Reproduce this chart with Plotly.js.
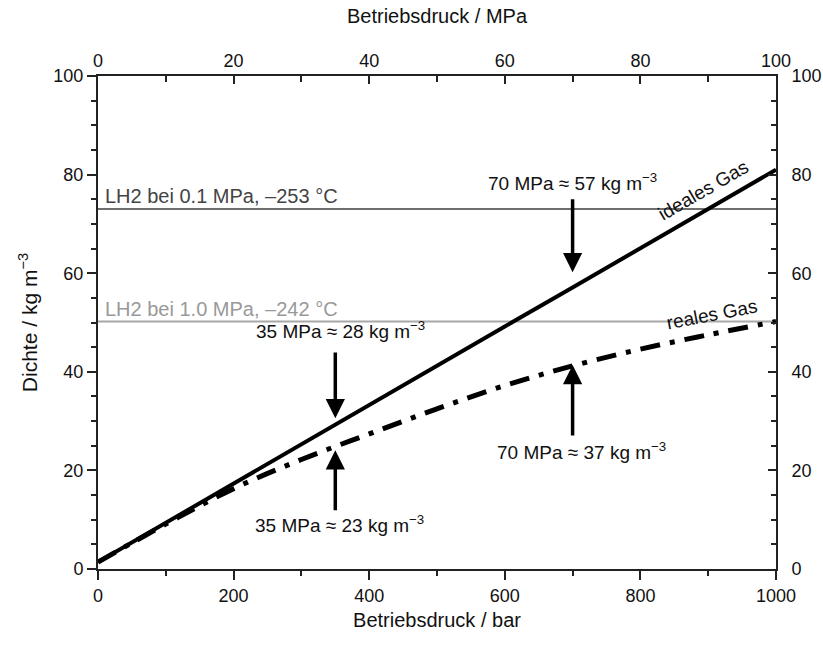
<!DOCTYPE html>
<html>
<head>
<meta charset="utf-8">
<script src="https://cdn.plot.ly/plotly-3.0.1.min.js"></script>
<style>html,body{margin:0;padding:0;background:#fff;}#chart{width:823px;height:657px;}</style>
</head>
<body>
<div id="chart"></div>
<script>
// Data
const pressureBar = [0, 100, 200, 300, 400, 500, 600, 700, 800, 900, 1000];
const densityIdeal = [1.4, 9.4, 17.3, 25.3, 33.2, 41.2, 49.2, 57.1, 65.1, 73.0, 81.0];
const densityReal = [1.4, 9.1, 16.3, 22.2, 27.4, 32.5, 37.2, 41.2, 44.6, 47.5, 50.2];
const lh2Pressure = [0, 1000];          // bar, full width
const lh2PressureMPa = [0, 100];        // MPa, top axis
const lh2Low = [73.0, 73.0];            // LH2 bei 0.1 MPa, -253 °C
const lh2High = [50.2, 50.2];           // LH2 bei 1.0 MPa, -242 °C
const xTicksBar = [0, 200, 400, 600, 800, 1000];
const xTicksMPa = [0, 20, 40, 60, 80, 100];
const yTicks = [0, 20, 40, 60, 80, 100];

const FONT = 'Liberation Sans, Arial, Helvetica, sans-serif';
const AX = '#222';

const traces = [
  {x: lh2Pressure, y: lh2Low, mode: 'lines', line: {color: '#6e6e6e', width: 2}, hoverinfo: 'skip', showlegend: false},
  {x: lh2Pressure, y: lh2High, mode: 'lines', line: {color: '#a8a8a8', width: 2}, hoverinfo: 'skip', showlegend: false},
  {x: pressureBar, y: densityReal, mode: 'lines', line: {color: '#000', width: 5, dash: '20px,10px,5px,10px', shape: 'spline'}, showlegend: false},
  {x: pressureBar, y: densityIdeal, mode: 'lines', line: {color: '#000', width: 4}, showlegend: false},
  // invisible trace anchoring the top (MPa) and right axes
  {x: lh2PressureMPa, y: lh2Low, xaxis: 'x2', yaxis: 'y2', mode: 'lines', line: {color: 'rgba(0,0,0,0)', width: 0}, hoverinfo: 'skip', showlegend: false}
];

const baseAxis = {
  showline: true, linecolor: AX, linewidth: 2, mirror: false,
  showgrid: false, zeroline: false, ticks: 'outside', tickcolor: AX, tickwidth: 2, ticklen: 9,
  tickfont: {family: FONT, size: 18, color: '#111'}
};

const annFont = {family: FONT, size: 19, color: '#111'};

const layout = {
  width: 823, height: 657,
  margin: {l: 98, r: 47, t: 76, b: 88},
  paper_bgcolor: '#fff', plot_bgcolor: '#fff',
  font: {family: FONT, color: '#111'},
  showlegend: false,
  xaxis: Object.assign({}, baseAxis, {
    range: [0, 1000], tickvals: xTicksBar, ticktext: xTicksBar.map(String),
    minor: {dtick: 100, ticks: 'outside', ticklen: 5, tickcolor: AX, tickwidth: 2},
    title: {text: 'Betriebsdruck / bar', font: {family: FONT, size: 20, color: '#111'}, standoff: 8}
  }),
  xaxis2: Object.assign({}, baseAxis, {
    range: [0, 100], overlaying: 'x', side: 'top', anchor: 'y',
    tickvals: xTicksMPa, ticktext: xTicksMPa.map(String), ticks: 'inside', ticklen: 8,
    minor: {dtick: 10, ticks: 'inside', ticklen: 6, tickcolor: AX, tickwidth: 2},
    title: {text: 'Betriebsdruck / MPa', font: {family: FONT, size: 20, color: '#111'}, standoff: 22}
  }),
  yaxis: Object.assign({}, baseAxis, {
    range: [0, 100], tickvals: yTicks, ticktext: yTicks.map(String),
    minor: {dtick: 5, ticks: 'outside', ticklen: 5, tickcolor: AX, tickwidth: 2},
    title: {text: 'Dichte / kg m<sup>−3</sup>', font: {family: FONT, size: 21, color: '#111'}, standoff: 10}
  }),
  yaxis2: Object.assign({}, baseAxis, {
    range: [0, 100], overlaying: 'y', side: 'right', anchor: 'x',
    tickvals: yTicks, ticktext: yTicks.map(String), ticks: 'inside', ticklen: 8,
    ticklabelstandoff: 10,
    minor: {dtick: 5, ticks: 'inside', ticklen: 5, tickcolor: AX, tickwidth: 2}
  }),
  annotations: [
    {x: 8, y: 73, xref: 'x', yref: 'y', text: 'LH2 bei 0.1 MPa, –253 °C', showarrow: false, xanchor: 'left', yanchor: 'bottom', yshift: 0, font: {family: FONT, size: 20, color: '#444'}},
    {x: 8, y: 50.2, xref: 'x', yref: 'y', text: 'LH2 bei 1.0 MPa, –242 °C', showarrow: false, xanchor: 'left', yanchor: 'bottom', yshift: 0, font: {family: FONT, size: 20, color: '#999'}},
    // labels
    {x: 700, y: 78.5, xref: 'x', yref: 'y', text: '70 MPa ≈ 57 kg m<sup>−3</sup>', showarrow: false, font: annFont},
    {x: 357, y: 48.5, xref: 'x', yref: 'y', text: '35 MPa ≈ 28 kg m<sup>−3</sup>', showarrow: false, font: annFont},
    {x: 713, y: 24.0, xref: 'x', yref: 'y', text: '70 MPa ≈ 37 kg m<sup>−3</sup>', showarrow: false, font: annFont},
    {x: 356, y: 9.2, xref: 'x', yref: 'y', text: '35 MPa ≈ 23 kg m<sup>−3</sup>', showarrow: false, font: annFont},
    // arrows
    {x: 700, y: 60.2, ax: 700, ay: 75.3, xref: 'x', yref: 'y', axref: 'x', ayref: 'y', text: '', showarrow: true, arrowhead: 2, arrowsize: 1.1, arrowwidth: 3.5, arrowcolor: '#000'},
    {x: 350, y: 30.6, ax: 350, ay: 44.2, xref: 'x', yref: 'y', axref: 'x', ayref: 'y', text: '', showarrow: true, arrowhead: 2, arrowsize: 1.1, arrowwidth: 3.5, arrowcolor: '#000'},
    {x: 700, y: 41.4, ax: 700, ay: 26.8, xref: 'x', yref: 'y', axref: 'x', ayref: 'y', text: '', showarrow: true, arrowhead: 2, arrowsize: 1.1, arrowwidth: 3.5, arrowcolor: '#000'},
    {x: 350, y: 24.1, ax: 350, ay: 11.6, xref: 'x', yref: 'y', axref: 'x', ayref: 'y', text: '', showarrow: true, arrowhead: 2, arrowsize: 1.1, arrowwidth: 3.5, arrowcolor: '#000'},
    // curve labels
    {x: 892, y: 76.8, xref: 'x', yref: 'y', text: 'ideales Gas', showarrow: false, textangle: -30, font: annFont},
    {x: 905, y: 51.6, xref: 'x', yref: 'y', text: 'reales Gas', showarrow: false, textangle: -11, font: annFont}
  ]
};

Plotly.newPlot('chart', traces, layout, {staticPlot: true, displayModeBar: false});
</script>
</body>
</html>
